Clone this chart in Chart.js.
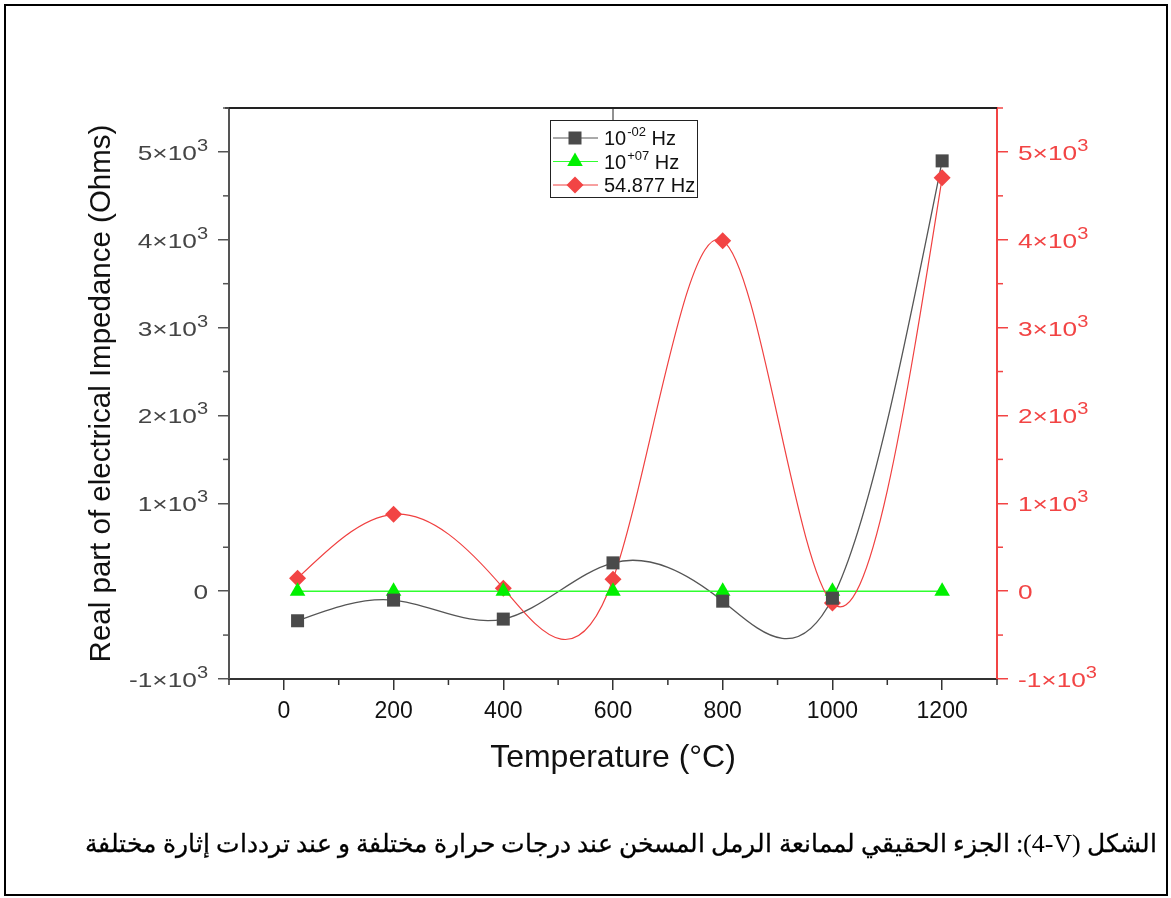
<!DOCTYPE html>
<html>
<head>
<meta charset="utf-8">
<script src="https://cdn.jsdelivr.net/npm/chart.js@4.4.1/dist/chart.umd.min.js"></script>
<style>
    html, body { margin: 0; padding: 0; background: #fff; }
    #wrap { position: relative; width: 1171px; height: 898px; }
    #frame {
        position: absolute; left: 4px; top: 4px; width: 1164px; height: 892px;
        border: 2px solid #000; box-sizing: border-box; pointer-events: none;
    }
    #caption {
        position: absolute; right: 14px; top: 829px; direction: rtl;
        font-family: "Liberation Serif", "DejaVu Serif", serif; font-size: 24.8px; color: #000;
        white-space: nowrap; -webkit-text-stroke: 0.3px #000;
    }
    #caption bdi { -webkit-text-stroke: 0; font-size: 26px; }
</style>
</head>
<body>
<div id="wrap">
    <canvas id="chart" width="1171" height="898"></canvas>
    <div id="frame"></div>
    <div id="caption">الشكل <bdi dir="ltr">(4-V)</bdi>: الجزء الحقيقي لممانعة الرمل المسخن عند درجات حرارة مختلفة و عند ترددات إثارة مختلفة</div>
</div>
<script>
const temps = [25, 200, 400, 600, 800, 1000, 1200];
const zLowFreq = [-337, -102, -318, 322, -114, -80, 4898];    // 10^-02 Hz
const zHighFreq = [0, 0, 0, 0, 0, 0, 0];                     // 10^+07 Hz
const zMidFreq = [148, 875, 34, 136, 3990, -136, 4705];     // 54.877 Hz (right axis)

const xMajor = [0, 200, 400, 600, 800, 1000, 1200];
const xMinor = [-100, 100, 300, 500, 700, 900, 1100, 1300];
const yMajor = [-1000, 0, 1000, 2000, 3000, 4000, 5000];
const yMinor = [-500, 500, 1500, 2500, 3500, 4500, 5500];

const seriesLabels = [['10', '-02', ' Hz'], ['10', '+07', ' Hz'], ['54.877 Hz', '', '']];

const GRAY = '#4a4a4a';
const GREEN = '#00f000';
const RED = '#f24444';
const FONT = '"Liberation Sans", Arial, sans-serif';

const toPoints = (ys) => temps.map((t, i) => ({x: t, y: ys[i]}));

// natural cubic spline -> bezier segments, drawn through the chart scales
function splineSegments(xs, ys) {
    const n = xs.length;
    const h = [];
    for (let i = 0; i < n - 1; i++) h.push(xs[i + 1] - xs[i]);
    const M = new Array(n).fill(0);
    const a = [], b = [], c = [], d = [];
    for (let i = 1; i < n - 1; i++) {
        a.push(h[i - 1]);
        b.push(2 * (h[i - 1] + h[i]));
        c.push(h[i]);
        d.push(6 * ((ys[i + 1] - ys[i]) / h[i] - (ys[i] - ys[i - 1]) / h[i - 1]));
    }
    const m = b.length;
    for (let i = 1; i < m; i++) {
        const w = a[i] / b[i - 1];
        b[i] -= w * c[i - 1];
        d[i] -= w * d[i - 1];
    }
    const sol = new Array(m);
    sol[m - 1] = d[m - 1] / b[m - 1];
    for (let i = m - 2; i >= 0; i--) sol[i] = (d[i] - c[i] * sol[i + 1]) / b[i];
    for (let i = 0; i < m; i++) M[i + 1] = sol[i];

    const segs = [];
    for (let i = 0; i < n - 1; i++) {
        const x0 = xs[i], x1 = xs[i + 1], y0 = ys[i], y1 = ys[i + 1], hh = h[i];
        const s = (y1 - y0) / hh;
        const d0 = s - hh * (2 * M[i] + M[i + 1]) / 6;
        const d1 = s + hh * (M[i] + 2 * M[i + 1]) / 6;
        segs.push([x0, y0, x0 + hh / 3, y0 + d0 * hh / 3, x1 - hh / 3, y1 - d1 * hh / 3, x1, y1]);
    }
    return segs;
}

const splinePlugin = {
    id: 'spline',
    beforeDatasetsDraw(chart) {
        const ctx = chart.ctx;
        const area = chart.chartArea;
        ctx.save();
        ctx.beginPath();
        ctx.rect(area.left, area.top, area.right - area.left, area.bottom - area.top);
        ctx.clip();
        chart.data.datasets.forEach((ds, idx) => {
            const meta = chart.getDatasetMeta(idx);
            const sx = chart.scales[meta.xAxisID];
            const sy = chart.scales[meta.yAxisID];
            const segs = splineSegments(ds.data.map(p => p.x), ds.data.map(p => p.y));
            ctx.beginPath();
            ctx.strokeStyle = ds.lineColor;
            ctx.lineWidth = ds.lineWidth;
            segs.forEach((s, k) => {
                if (k === 0) ctx.moveTo(sx.getPixelForValue(s[0]), sy.getPixelForValue(s[1]));
                ctx.bezierCurveTo(
                    sx.getPixelForValue(s[2]), sy.getPixelForValue(s[3]),
                    sx.getPixelForValue(s[4]), sy.getPixelForValue(s[5]),
                    sx.getPixelForValue(s[6]), sy.getPixelForValue(s[7])
                );
            });
            ctx.stroke();
        });
        ctx.restore();
    }
};

function sciText(ctx, v, x, y, align, color) {
    const SX = 1.25;
    const main = v === 0 ? '0' : (v / 1000) + '×10';
    const sup = v === 0 ? '' : '3';
    ctx.save();
    ctx.fillStyle = color;
    ctx.textAlign = 'left';
    ctx.textBaseline = 'alphabetic';
    ctx.font = '21px ' + FONT;
    const wMain = ctx.measureText(main).width;
    ctx.font = '16px ' + FONT;
    const wSup = sup ? ctx.measureText(sup).width : 0;
    const total = (wMain + wSup) * SX;
    const x0 = align === 'right' ? x - total : x;
    ctx.translate(x0, y);
    ctx.scale(SX, 1);
    ctx.font = '21px ' + FONT;
    ctx.fillText(main, 0, 8);
    if (sup) {
        ctx.font = '16px ' + FONT;
        ctx.fillText(sup, wMain, -1);
    }
    ctx.restore();
}

const decorPlugin = {
    id: 'decor',
    afterDraw(chart) {
        const ctx = chart.ctx;
        const {left, right, top, bottom} = chart.chartArea;
        const sx = chart.scales.x, sy = chart.scales.y, sy1 = chart.scales.y1;
        ctx.save();

        // top frame line of the plot
        ctx.strokeStyle = '#222';
        ctx.lineWidth = 2;
        ctx.beginPath();
        ctx.moveTo(left - 4, top);
        ctx.lineTo(right, top);
        ctx.stroke();

        // minor ticks
        ctx.lineWidth = 1.5;
        ctx.strokeStyle = '#333';
        xMinor.forEach(v => {
            const px = sx.getPixelForValue(v);
            ctx.beginPath(); ctx.moveTo(px, bottom); ctx.lineTo(px, bottom + 6); ctx.stroke();
        });
        ctx.strokeStyle = '#555';
        yMinor.forEach(v => {
            const py = sy.getPixelForValue(v);
            ctx.beginPath(); ctx.moveTo(left, py); ctx.lineTo(left - 6, py); ctx.stroke();
        });
        ctx.strokeStyle = RED;
        yMinor.forEach(v => {
            const py = sy1.getPixelForValue(v);
            ctx.beginPath(); ctx.moveTo(right, py); ctx.lineTo(right + 6, py); ctx.stroke();
        });

        // tick labels
        yMajor.forEach(v => sciText(ctx, v, left - 21, sy.getPixelForValue(v), 'right', '#444'));
        yMajor.forEach(v => sciText(ctx, v, right + 21, sy1.getPixelForValue(v), 'left', RED));
        ctx.fillStyle = '#111';
        ctx.font = '23px ' + FONT;
        ctx.textAlign = 'center';
        ctx.textBaseline = 'alphabetic';
        xMajor.forEach(v => ctx.fillText(String(v), sx.getPixelForValue(v), bottom + 39));

        // axis titles
        ctx.font = '32px ' + FONT;
        ctx.fillText('Temperature (°C)', (left + right) / 2, 767);
        ctx.save();
        ctx.translate(110, (top + bottom) / 2);
        ctx.rotate(-Math.PI / 2);
        ctx.font = '29.5px ' + FONT;
        ctx.fillText('Real part of electrical Impedance (Ohms)', 0, 0);
        ctx.restore();

        // legend
        const lx = 550, ly = 120, lw = 147, lh = 77;
        ctx.strokeStyle = '#222';
        ctx.lineWidth = 1;
        ctx.beginPath();
        ctx.moveTo(sx.getPixelForValue(600), top);
        ctx.lineTo(sx.getPixelForValue(600), ly);
        ctx.stroke();
        ctx.fillStyle = '#fff';
        ctx.fillRect(lx, ly, lw, lh);
        ctx.strokeRect(lx + 0.5, ly + 0.5, lw, lh);
        chart.data.datasets.forEach((ds, i) => {
            const cy = ly + 18 + i * 23.5;
            ctx.strokeStyle = ds.lineColor;
            ctx.lineWidth = 1;
            ctx.beginPath(); ctx.moveTo(lx + 3, cy); ctx.lineTo(lx + 48, cy); ctx.stroke();
            ctx.fillStyle = ds.pointBackgroundColor;
            Chart.helpers.drawPoint(ctx, {
                pointStyle: ds.pointStyle, radius: ds.pointRadius, borderWidth: 0, rotation: 0
            }, lx + 25, cy);
            const [base, sup, tail] = seriesLabels[i];
            ctx.fillStyle = '#111';
            ctx.textAlign = 'left';
            ctx.font = '20px ' + FONT;
            let tx = lx + 54;
            ctx.fillText(base, tx, cy + 7);
            tx += ctx.measureText(base).width;
            if (sup) {
                ctx.font = '13px ' + FONT;
                ctx.fillText(sup, tx + 1, cy - 2);
                tx += ctx.measureText(sup).width + 1;
                ctx.font = '20px ' + FONT;
                ctx.fillText(tail, tx, cy + 7);
            }
        });
        ctx.restore();
    }
};

const axisGrid = (color) => ({
    drawOnChartArea: false,
    drawTicks: true,
    tickLength: 11,
    color: color,
    lineWidth: 1.5
});

new Chart(document.getElementById('chart'), {
    type: 'scatter',
    data: {
        datasets: [
            {
                data: toPoints(zLowFreq),
                pointStyle: 'rect', pointRadius: 9.2, pointBorderWidth: 0,
                pointBackgroundColor: GRAY, lineColor: '#555', lineWidth: 1.3,
                xAxisID: 'x', yAxisID: 'y'
            },
            {
                data: toPoints(zHighFreq),
                pointStyle: 'triangle', pointRadius: 9, pointBorderWidth: 0,
                pointBackgroundColor: GREEN, lineColor: '#30ff30', lineWidth: 1.5,
                xAxisID: 'x', yAxisID: 'y'
            },
            {
                data: toPoints(zMidFreq),
                pointStyle: 'rectRot', pointRadius: 8.5, pointBorderWidth: 0,
                pointBackgroundColor: RED, lineColor: '#f04040', lineWidth: 1.2,
                xAxisID: 'x', yAxisID: 'y1'
            }
        ]
    },
    options: {
        responsive: false,
        animation: false,
        layout: {padding: {top: 108, left: 0, right: 0, bottom: 0}},
        plugins: {legend: {display: false}, tooltip: {enabled: false}},
        scales: {
            x: {
                type: 'linear', position: 'bottom', min: -100, max: 1300,
                afterBuildTicks: (s) => { s.ticks = xMajor.map(v => ({value: v})); },
                afterFit: (s) => { s.height = 219; },
                ticks: {display: false},
                grid: axisGrid('#333'),
                border: {display: true, color: '#333', width: 2}
            },
            y: {
                type: 'linear', position: 'left', min: -1000, max: 5500,
                afterBuildTicks: (s) => { s.ticks = yMajor.map(v => ({value: v})); },
                afterFit: (s) => { s.width = 229; },
                ticks: {display: false},
                grid: axisGrid('#555'),
                border: {display: true, color: '#555', width: 2}
            },
            y1: {
                type: 'linear', position: 'right', min: -1000, max: 5500,
                afterBuildTicks: (s) => { s.ticks = yMajor.map(v => ({value: v})); },
                afterFit: (s) => { s.width = 174; },
                ticks: {display: false},
                grid: axisGrid(RED),
                border: {display: true, color: RED, width: 2}
            }
        }
    },
    plugins: [splinePlugin, decorPlugin]
});
</script>
</body>
</html>
